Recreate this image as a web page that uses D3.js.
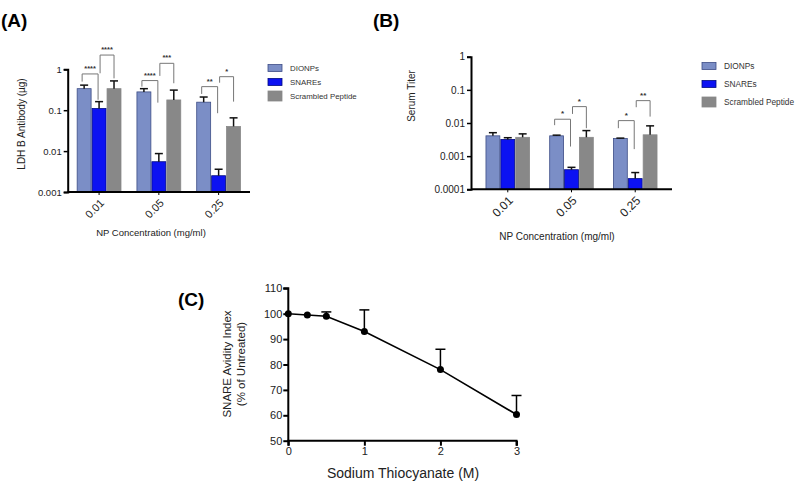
<!DOCTYPE html>
<html><head><meta charset="utf-8">
<script src="https://cdn.jsdelivr.net/npm/d3@7"></script>
<style>
body{margin:0;background:#fff;}
svg{display:block;font-family:"Liberation Sans",Arial,sans-serif;}
</style></head>
<body>
<svg id="chart" width="800" height="484"></svg>
<script>
// ---------- DATA ----------
const categories = ["0.01", "0.05", "0.25"];
const seriesNames = ["DIONPs", "SNAREs", "Scrambled Peptide"];

// Panel A: LDH B Antibody (µg)
const ldhDIONPs = [0.336, 0.28, 0.157];
const ldhDIONPsUpper = [0.41, 0.336, 0.21];
const ldhSNAREs = [0.11, 0.0055, 0.0025];
const ldhSNAREsUpper = [0.162, 0.0087, 0.0036];
const ldhScrambled = [0.336, 0.178, 0.04];
const ldhScrambledUpper = [0.52, 0.31, 0.065];
const ldhTicks = [0.001, 0.01, 0.1, 1];
const ldhTickLabels = ["0.001", "0.01", "0.1", "1"];
// brackets: category, from series, to series, top, left leg end, right leg end, label
const ldhBrackets = [
  {cat: "0.01", from: 0, to: 1, top: 0.77, left: 0.50, right: 0.18, label: "****"},
  {cat: "0.01", from: 1, to: 2, top: 2.23, left: 0.80, right: 0.60, label: "****"},
  {cat: "0.05", from: 0, to: 1, top: 0.53, left: 0.377, right: 0.153, label: "****"},
  {cat: "0.05", from: 1, to: 2, top: 1.40, left: 0.69, right: 0.456, label: "***"},
  {cat: "0.25", from: 0, to: 1, top: 0.377, left: 0.25, right: 0.0845, label: "**"},
  {cat: "0.25", from: 1, to: 2, top: 0.66, left: 0.47, right: 0.162, label: "*"}
];

// Panel B: Serum Titer
const titerDIONPs = [0.0041, 0.0041, 0.0034];
const titerDIONPsUpper = [0.0051, 0.0043, 0.0035];
const titerSNAREs = [0.0032, 0.00039, 0.00021];
const titerSNAREsUpper = [0.0036, 0.00046, 0.00032];
const titerScrambled = [0.0037, 0.0037, 0.0044];
const titerScrambledUpper = [0.0047, 0.0059, 0.0082];
const titerTicks = [0.0001, 0.001, 0.01, 0.1, 1];
const titerTickLabels = ["0.0001", "0.001", "0.01", "0.1", "1"];
const titerBrackets = [
  {cat: "0.05", from: 0, to: 1, top: 0.0130, left: 0.0086, right: 0.00195, label: "*"},
  {cat: "0.05", from: 1, to: 2, top: 0.0312, left: 0.0188, right: 0.00697, label: "*"},
  {cat: "0.25", from: 0, to: 1, top: 0.0118, left: 0.00697, right: 0.00163, label: "*"},
  {cat: "0.25", from: 1, to: 2, top: 0.0473, left: 0.0299, right: 0.0156, label: "**"}
];

// Panel C: SNARE Avidity Index
const thiocyanate = [0, 0.25, 0.5, 1, 2, 3];
const avidity = [100, 99.5, 99, 93, 78, 60.3];
const avidityUpper = [null, null, 100.7, 101.5, 86, 67.8];
const avidityXTicks = [0, 1, 2, 3];
const avidityYTicks = [50, 60, 70, 80, 90, 100, 110];

// ---------- STYLE ----------
const colors = ["#7b8ec6", "#0c12f2", "#888888"];
const strokes = ["#3d4d86", "#000a80", "#888888"];

const svg = d3.select("#chart");

// panel labels
svg.append("text").attr("x", 1).attr("y", 27).attr("font-size", 19).attr("font-weight", "bold").text("(A)");
svg.append("text").attr("x", 373).attr("y", 27).attr("font-size", 19).attr("font-weight", "bold").text("(B)");
svg.append("text").attr("x", 178).attr("y", 306).attr("font-size", 19).attr("font-weight", "bold").text("(C)");

function barPanel(cfg) {
  const g = svg.append("g");
  const x = d3.scaleBand().domain(categories).range([cfg.x0, cfg.x1])
    .paddingInner(cfg.padIn).paddingOuter(cfg.padOut);
  const xs = d3.scaleBand().domain([0, 1, 2]).range([0, x.bandwidth()]).padding(0);
  const y = d3.scaleLog().domain(cfg.domain).range([cfg.yBottom, cfg.yTop]);

  // bars
  cfg.series.forEach((vals, si) => {
    g.selectAll(null).data(categories).enter().append("rect")
      .attr("x", c => x(c) + xs(si) + 0.5)
      .attr("width", xs.bandwidth() - 1)
      .attr("y", (c, i) => y(vals[i]))
      .attr("height", (c, i) => cfg.yBottom - y(vals[i]))
      .attr("fill", colors[si])
      .attr("stroke", strokes[si])
      .attr("stroke-width", 0.8);
    // error bars
    const ups = cfg.uppers[si];
    categories.forEach((c, i) => {
      const cx = x(c) + xs(si) + xs.bandwidth() / 2;
      g.append("line").attr("x1", cx).attr("x2", cx)
        .attr("y1", y(vals[i])).attr("y2", y(ups[i]))
        .attr("stroke", "#111").attr("stroke-width", 1.5);
      g.append("line").attr("x1", cx - 4).attr("x2", cx + 4)
        .attr("y1", y(ups[i])).attr("y2", y(ups[i]))
        .attr("stroke", "#111").attr("stroke-width", 1.5);
    });
  });

  // axes
  const yAxis = d3.axisLeft(y).tickValues(cfg.ticks).tickFormat((d, i) => cfg.tickLabels[i]).tickSize(4).tickPadding(2);
  const ya = g.append("g").attr("transform", `translate(${cfg.x0},0)`).call(yAxis);
  ya.select(".domain").attr("stroke", "#000").attr("stroke-width", 2);
  ya.selectAll(".tick line").attr("stroke", "#000").attr("stroke-width", 1.5);
  ya.selectAll(".tick text").attr("font-size", cfg.fs).attr("fill", "#222").attr("font-family", "Liberation Sans, Arial");

  const xAxis = d3.axisBottom(x).tickSize(3).tickFormat("");
  const xa = g.append("g").attr("transform", `translate(0,${cfg.yBottom})`).call(xAxis);
  xa.select(".domain").attr("stroke", "#000").attr("stroke-width", 2).attr("d", `M${cfg.x0},0H${cfg.x1}`);
  xa.selectAll(".tick line").attr("stroke", "#000").attr("stroke-width", 1);

  // rotated category labels
  g.selectAll(null).data(categories).enter().append("text")
    .attr("transform", c => `translate(${x(c) + x.bandwidth() / 2 + 3},${cfg.yBottom + 9}) rotate(-45)`)
    .attr("text-anchor", "end").attr("dy", "0.35em")
    .attr("font-size", cfg.catFs).attr("fill", "#222")
    .text(c => c);

  // axis titles
  g.append("text").attr("x", cfg.xTitleX).attr("y", cfg.xTitleY).attr("text-anchor", "middle")
    .attr("font-size", cfg.titleFs).attr("fill", "#222").text("NP Concentration (mg/ml)");
  g.append("text").attr("transform", `translate(${cfg.yTitleX},${cfg.yTitleY}) rotate(-90)`)
    .attr("text-anchor", "middle").attr("font-size", cfg.yTitleFs).attr("fill", "#222").text(cfg.yTitle);

  // significance brackets
  cfg.brackets.forEach(b => {
    const off = b.from === 0 ? [-2, -1] : [1, 0];
    const xl = x(b.cat) + xs(b.from) + xs.bandwidth() / 2 + off[0];
    const xr = x(b.cat) + xs(b.to) + xs.bandwidth() / 2 + off[1];
    g.append("path")
      .attr("d", `M${xl},${y(b.left)}V${y(b.top)}H${xr}V${y(b.right)}`)
      .attr("fill", "none").attr("stroke", "#777").attr("stroke-width", 1);
    g.append("text").attr("x", (xl + xr) / 2).attr("y", y(b.top) - 3)
      .attr("text-anchor", "middle").attr("font-size", cfg.starFs).attr("font-weight", "bold")
      .attr("fill", "#333").text(b.label);
  });

  // legend
  const lg = g.append("g");
  seriesNames.forEach((n, i) => {
    const cy = cfg.legY + i * cfg.legStep;
    const h = i === 2 ? 10 : 7;
    lg.append("rect").attr("x", cfg.legX).attr("y", cy - h / 2).attr("width", 14).attr("height", h)
      .attr("fill", colors[i]).attr("stroke", strokes[i]).attr("stroke-width", 0.8);
    lg.append("text").attr("x", cfg.legX + 22).attr("y", cy).attr("dy", "0.35em")
      .attr("font-size", cfg.legFs).attr("fill", "#333").text(n);
  });
}

barPanel({
  x0: 67.7, x1: 250, padIn: 0.25, padOut: 0.15,
  domain: [0.001, 1], yBottom: 192, yTop: 69.3,
  series: [ldhDIONPs, ldhSNAREs, ldhScrambled],
  uppers: [ldhDIONPsUpper, ldhSNAREsUpper, ldhScrambledUpper],
  ticks: ldhTicks, tickLabels: ldhTickLabels, fs: 9.5, catFs: 11,
  xTitleX: 151, xTitleY: 236, titleFs: 9.5,
  yTitle: "LDH B Antibody (µg)", yTitleX: 25, yTitleY: 124, yTitleFs: 10,
  brackets: ldhBrackets, starFs: 7.5,
  legX: 268, legY: 68, legStep: 14, legFs: 7.9
});

barPanel({
  x0: 471, x1: 672, padIn: 0.3, padOut: 0.227,
  domain: [0.0001, 1], yBottom: 189.3, yTop: 56.7,
  series: [titerDIONPs, titerSNAREs, titerScrambled],
  uppers: [titerDIONPsUpper, titerSNAREsUpper, titerScrambledUpper],
  ticks: titerTicks, tickLabels: titerTickLabels, fs: 10, catFs: 12,
  xTitleX: 557, xTitleY: 240, titleFs: 10,
  yTitle: "Serum Titer", yTitleX: 415, yTitleY: 96, yTitleFs: 10,
  brackets: titerBrackets, starFs: 8,
  legX: 702, legY: 66, legStep: 18, legFs: 8.3
});

// ---------- Panel C ----------
(function () {
  const g = svg.append("g");
  const x = d3.scaleLinear().domain([0, 3]).range([288.3, 516.5]);
  const y = d3.scaleLinear().domain([50, 110]).range([440.7, 288.3]);

  const xa = g.append("g").attr("transform", `translate(0,${y(50)})`)
    .call(d3.axisBottom(x).tickValues(avidityXTicks).tickFormat(d3.format("d")).tickSize(5).tickPadding(2));
  const ya = g.append("g").attr("transform", `translate(${x(0)},0)`)
    .call(d3.axisLeft(y).tickValues(avidityYTicks).tickSize(5).tickPadding(1));
  [xa, ya].forEach(a => {
    a.select(".domain").attr("stroke", "#000").attr("stroke-width", 2);
    a.selectAll(".tick line").attr("stroke", "#000").attr("stroke-width", 2);
    a.selectAll(".tick text").attr("font-size", 11).attr("fill", "#222").attr("font-family", "Liberation Sans, Arial");
  });
  ya.select(".domain").attr("d", `M-5,${y(110)}H0V${y(50)}`);
  xa.select(".domain").attr("d", `M${x(0)},5V0H${x(3)}V5`);

  // line
  const line = d3.line().x((d, i) => x(thiocyanate[i])).y(d => y(d));
  g.append("path").datum(avidity).attr("d", line).attr("fill", "none")
    .attr("stroke", "#000").attr("stroke-width", 1.6);

  // error bars (upper only)
  avidity.forEach((v, i) => {
    const u = avidityUpper[i];
    if (u == null) return;
    const cx = x(thiocyanate[i]);
    g.append("line").attr("x1", cx).attr("x2", cx).attr("y1", y(v)).attr("y2", y(u))
      .attr("stroke", "#000").attr("stroke-width", 1.5);
    g.append("line").attr("x1", cx - 5).attr("x2", cx + 5).attr("y1", y(u)).attr("y2", y(u))
      .attr("stroke", "#000").attr("stroke-width", 1.5);
  });

  g.selectAll(null).data(avidity).enter().append("circle")
    .attr("cx", (d, i) => x(thiocyanate[i])).attr("cy", d => y(d)).attr("r", 3.5).attr("fill", "#000");

  g.append("text").attr("x", 403).attr("y", 478).attr("text-anchor", "middle")
    .attr("font-size", 14).attr("fill", "#222").text("Sodium Thiocyanate (M)");
  const yt = g.append("text").attr("transform", `translate(231,364) rotate(-90)`)
    .attr("text-anchor", "middle").attr("font-size", 11.5).attr("fill", "#222");
  yt.append("tspan").attr("x", 0).attr("dy", 0).text("SNARE Avidity Index");
  yt.append("tspan").attr("x", 0).attr("dy", "1.2em").text("(% of Untreated)");
})();
</script>
</body></html>
